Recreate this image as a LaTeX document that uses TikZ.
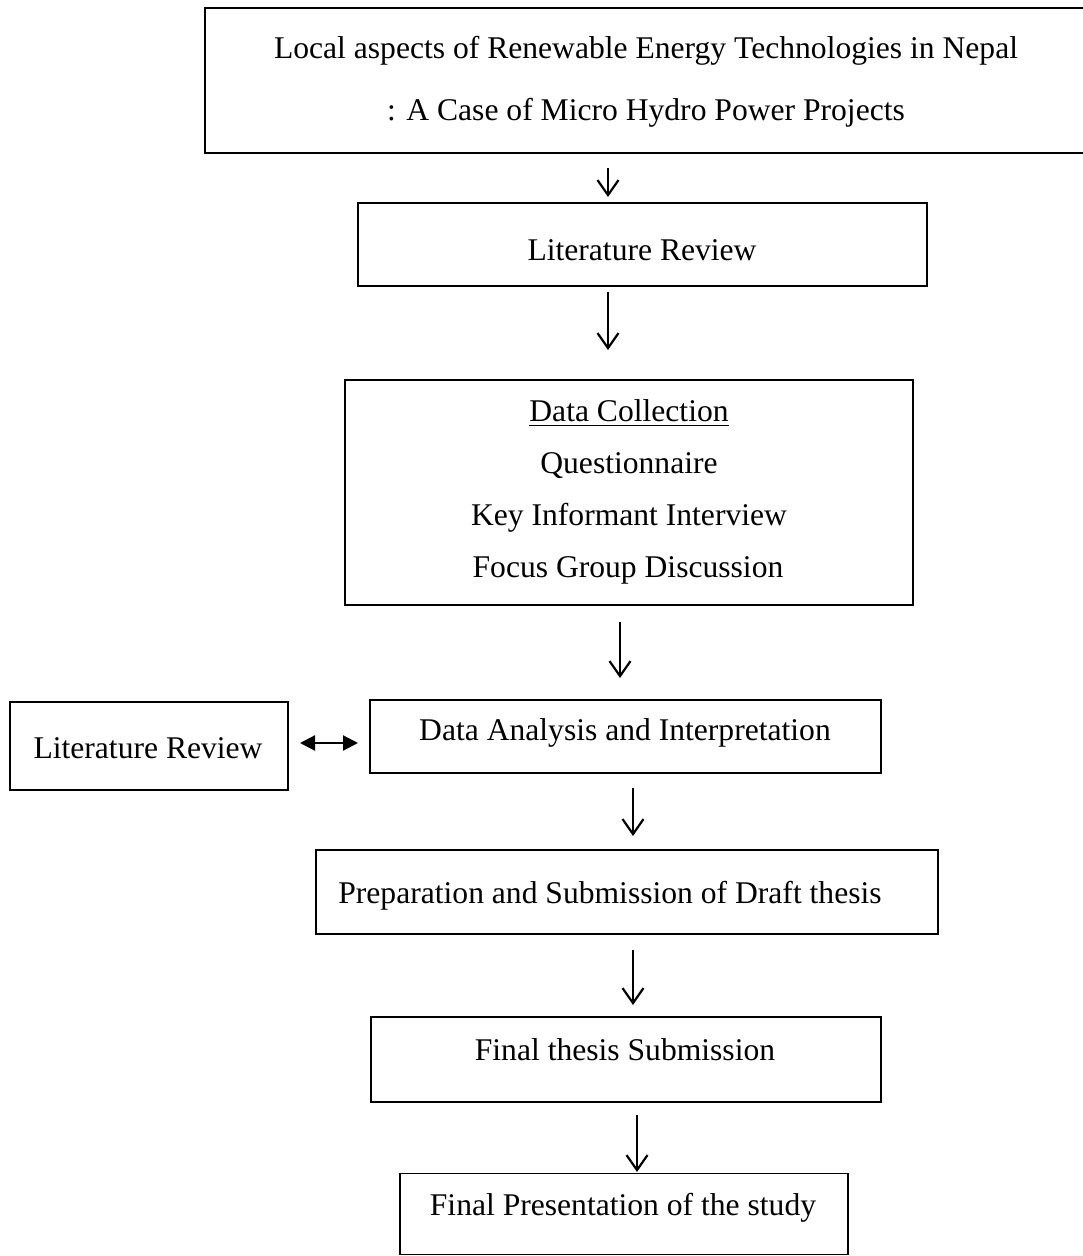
\documentclass[tikz,border=0pt]{standalone}
\usepackage{fontspec}
\setmainfont{Liberation Serif}
\usepackage{tikz}
\usetikzlibrary{arrows.meta}
\tikzstyle{every box node}=[draw,rectangle,line width=0.9pt,inner sep=0pt]
\tikzstyle{every txt node}=[inner sep=0pt,font=\fontsize{15.8}{19}\selectfont]
\tikzstyle{down}=[line width=1.1pt,-{Straight Barb[length=7.5pt,width=10.5pt,line width=1.1pt]}]
\tikzstyle{both}=[line width=1.1pt,{Triangle[length=7.5pt,width=7.5pt]}-{Triangle[length=7.5pt,width=7.5pt]}]

\begin{document}
\begin{tikzpicture}[x=0.5pt,y=-0.5pt]
\useasboundingbox (0,0) rectangle (1082,1256);

% boxes
\node[every box node,minimum width=450pt,minimum height=72.5pt] (title) at (655,80.5) {};
\node[every box node,minimum width=284.5pt,minimum height=41.5pt] (lit) at (642.5,244.5) {};
\node[every box node,minimum width=284pt,minimum height=112.5pt] (data) at (629,492.5) {};
\node[every box node,minimum width=139pt,minimum height=44pt] (litl) at (149,746) {};
\node[every box node,minimum width=255.5pt,minimum height=36.5pt] (ana) at (625.5,736.5) {};
\node[every box node,minimum width=311pt,minimum height=42pt] (prep) at (627,892) {};
\node[every box node,minimum width=255pt,minimum height=42.5pt] (fin) at (626,1059.5) {};
\node[every box node,minimum width=224pt,minimum height=40.5pt] (pres) at (624,1214) {};

% texts
\node[every txt node] (t1) at (646,51) {Local aspects of Renewable Energy Technologies in Nepal};
\node[every txt node] (t2) at (646,113) {: A Case of Micro Hydro Power Projects};
\node[every txt node] (tlit) at (642,250) {Literature Review};
\node[every txt node] (d0) at (629,413) {\underline{Data Collection}};
\node[every txt node] (d1) at (629,466) {Questionnaire};
\node[every txt node] (d2) at (629,518) {Key Informant Interview};
\node[every txt node] (d3) at (628,570) {Focus Group Discussion};
\node[every txt node] (tlitl) at (148,748) {Literature Review};
\node[every txt node] (tana) at (625,733) {Data Analysis and Interpretation};
\node[every txt node] (tprep) at (610,896) {Preparation and Submission of Draft thesis};
\node[every txt node] (tfin) at (625,1050) {Final thesis Submission};
\node[every txt node] (tpres) at (623,1208) {Final Presentation of the study};

% arrow ends
\coordinate (a1) at (608,168);  \coordinate (b1) at (608,197);
\coordinate (a2) at (608,292);  \coordinate (b2) at (608,350);
\coordinate (a3) at (620,622);  \coordinate (b3) at (620,678);
\coordinate (a4) at (633,788);  \coordinate (b4) at (633,836);
\coordinate (a5) at (633,950);  \coordinate (b5) at (633,1005);
\coordinate (a6) at (637,1115); \coordinate (b6) at (637,1172);
\coordinate (l) at (300,743);   \coordinate (r) at (358,743);

\draw[down] (a1) -- (b1);
\draw[down] (a2) -- (b2);
\draw[down] (a3) -- (b3);
\draw[down] (a4) -- (b4);
\draw[down] (a5) -- (b5);
\draw[down] (a6) -- (b6);
\draw[both] (l) -- (r);
\end{tikzpicture}
\end{document}
